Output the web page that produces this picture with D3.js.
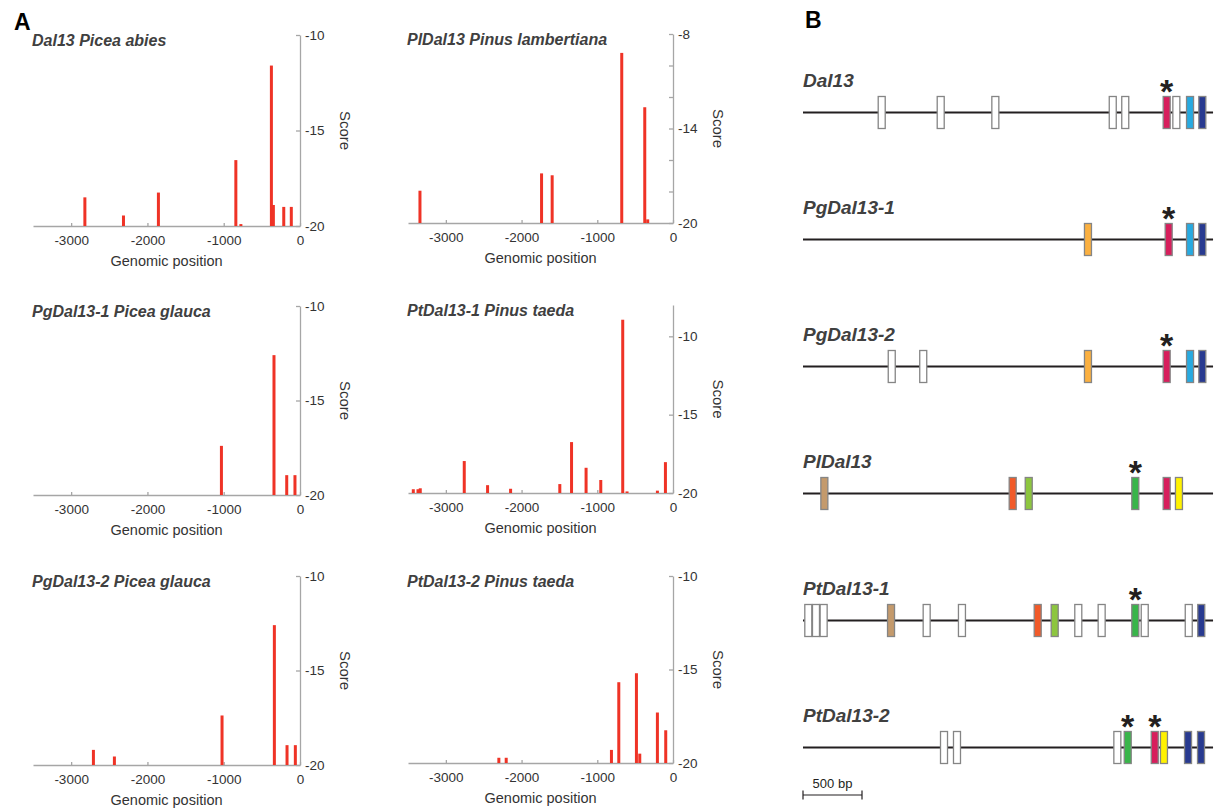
<!DOCTYPE html>
<html>
<head>
<meta charset="utf-8">
<script src="https://cdn.jsdelivr.net/npm/d3@7"></script>
<style>
  body { margin: 0; background: #fff; }
  text { font-family: "Liberation Sans", Arial, sans-serif; }
</style>
</head>
<body>
<script>
const width = 1216;
const height = 809;

// panel A data: motif positions (bp upstream) and scores
const dal13Pos = [-2820, -2314, -1856, -841, -775, -375, -349, -213, -114];
const dal13Score = [-18.5, -19.45, -18.25, -16.55, -19.9, -11.6, -18.9, -19.0, -19.0];
const plDal13Pos = [-3342, -1736, -1596, -677, -373, -334];
const plDal13Score = [-17.95, -16.85, -16.97, -9.2, -12.65, -19.77];
const pg1Pos = [-1030, -341, -174, -66];
const pg1Score = [-17.4, -12.6, -18.95, -18.95];
const pt1Pos = [-3430, -3368, -3338, -2757, -2449, -2145, -1495, -1340, -1148, -954, -664, -607, -206, -100];
const pt1Score = [-19.76, -19.76, -19.7, -17.96, -19.5, -19.73, -19.43, -16.75, -18.39, -19.17, -8.94, -19.9, -19.85, -18.03];
const pg2Pos = [-2708, -2433, -1022, -336, -170, -61];
const pg2Score = [-19.2, -19.55, -17.38, -12.6, -18.95, -18.95];
const pt2Pos = [-2300, -2203, -813, -716, -483, -439, -206, -96];
const pt2Score = [-19.72, -19.72, -19.3, -15.68, -15.2, -19.5, -17.3, -18.25];

const xTicks = [-3000, -2000, -1000, 0];

// panel B data: promoter maps
const trackNames = ["Dal13", "PgDal13-1", "PgDal13-2", "PlDal13", "PtDal13-1", "PtDal13-2"];
const trackBoxes = [
  [[-2833, "w"], [-2333, "w"], [-1870, "w"], [-875, "w"], [-769, "w"], [-418, "pink", 1], [-336, "w"], [-220, "cyan"], [-116, "navy"]],
  [[-1085, "orange"], [-401, "pink", 1], [-220, "cyan"], [-116, "navy"]],
  [[-2748, "w"], [-2481, "w"], [-1085, "orange"], [-418, "pink", 1], [-220, "cyan"], [-116, "navy"]],
  [[-3319, "tan"], [-1723, "red"], [-1587, "lime"], [-684, "green", 1], [-418, "pink"], [-314, "yellow"]],
  [[-3455, "w"], [-3390, "w"], [-3325, "w"], [-2754, "tan"], [-2452, "w"], [-2153, "w"], [-1511, "red"], [-1367, "lime"],
   [-1167, "w"], [-969, "w"], [-684, "green", 1], [-604, "w"], [-231, "w"], [-125, "navy"]],
  [[-2305, "w"], [-2195, "w"], [-836, "w"], [-748, "green", 1], [-519, "pink", 1], [-441, "yellow"], [-237, "navy"], [-127, "navy"]],
];
const boxColors = {
  w: "#ffffff", pink: "#d71e5c", cyan: "#27aae1", navy: "#283a90", orange: "#fbb040",
  tan: "#c49a6c", red: "#f15a29", lime: "#8dc63f", green: "#39b54a", yellow: "#fff200",
};

const svg = d3.select("body").append("svg").attr("width", width).attr("height", height);

svg.append("text").attr("x", 14).attr("y", 30).attr("font-size", 23).attr("font-weight", "bold").text("A");
svg.append("text").attr("x", 805).attr("y", 28).attr("font-size", 23).attr("font-weight", "bold").text("B");

const charts = [
  { title: "Dal13 Picea abies", pos: dal13Pos, score: dal13Score, x0: 33, x1: 300, yTop: 35, yBot: 226, top: -10, ticks: [-20, -15, -10], labels: [-20, -15, -10] },
  { title: "PlDal13 Pinus lambertiana", pos: plDal13Pos, score: plDal13Score, x0: 408, x1: 673, yTop: 34, yBot: 223, top: -8, ticks: [-20, -18, -16, -14, -12, -10, -8], labels: [-20, -14, -8] },
  { title: "PgDal13-1 Picea glauca", pos: pg1Pos, score: pg1Score, x0: 33, x1: 300, yTop: 306, yBot: 495, top: -10, ticks: [-20, -15, -10], labels: [-20, -15, -10] },
  { title: "PtDal13-1 Pinus taeda", pos: pt1Pos, score: pt1Score, x0: 408, x1: 673, yTop: 305, yBot: 493, top: -8, ticks: [-20, -15, -10], labels: [-20, -15, -10] },
  { title: "PgDal13-2 Picea glauca", pos: pg2Pos, score: pg2Score, x0: 33, x1: 300, yTop: 576, yBot: 765, top: -10, ticks: [-20, -15, -10], labels: [-20, -15, -10] },
  { title: "PtDal13-2 Pinus taeda", pos: pt2Pos, score: pt2Score, x0: 408, x1: 673, yTop: 576, yBot: 763, top: -10, ticks: [-20, -15, -10], labels: [-20, -15, -10] },
];

charts.forEach(drawChart);

function drawChart(c) {
  const g = svg.append("g");
  const x = d3.scaleLinear().domain([-3500, 0]).range([c.x0, c.x1]);
  const y = d3.scaleLinear().domain([-20, c.top]).range([c.yBot, c.yTop]);

  g.append("text")
    .attr("x", c.x0 - 1)
    .attr("y", c.yTop + 11)
    .attr("font-size", 16)
    .attr("font-weight", "bold")
    .attr("font-style", "italic")
    .attr("fill", "#404040")
    .text(c.title);

  const xAxis = g.append("g")
    .attr("transform", `translate(0,${c.yBot})`)
    .call(d3.axisBottom(x).tickValues(xTicks).tickSizeInner(-3).tickSizeOuter(0).tickPadding(9).tickFormat((d) => String(d)));

  const yAxis = g.append("g")
    .attr("transform", `translate(${c.x1},0)`)
    .call(d3.axisRight(y).tickValues(c.ticks).tickSizeInner(-4).tickSizeOuter(0).tickPadding(5)
      .tickFormat((d) => (c.labels.includes(d) ? String(d) : "")));

  [xAxis, yAxis].forEach((a) => {
    a.selectAll("path, line").attr("stroke", "#a6a6a6").attr("stroke-width", 1.3);
    a.selectAll("text").attr("font-size", 13.5).attr("fill", "#333").attr("font-family", "Liberation Sans, Arial, sans-serif");
  });

  g.append("text")
    .attr("x", (c.x0 + c.x1) / 2)
    .attr("y", c.yBot + 40)
    .attr("text-anchor", "middle")
    .attr("font-size", 14.5)
    .attr("fill", "#333")
    .text("Genomic position");

  g.append("text")
    .attr("transform", `translate(${c.x1 + 40},${(c.yTop + c.yBot) / 2}) rotate(90)`)
    .attr("text-anchor", "middle")
    .attr("font-size", 15)
    .attr("fill", "#333")
    .text("Score");

  const bars = c.pos.map((p, i) => ({ p: p, s: c.score[i] }));
  g.selectAll("rect.bar")
    .data(bars)
    .enter()
    .append("rect")
    .attr("class", "bar")
    .attr("x", (d) => x(d.p) - 1.5)
    .attr("width", 3)
    .attr("y", (d) => y(d.s))
    .attr("height", (d) => y(-20) - y(d.s))
    .attr("fill", "#ef3326");
}

// panel B
const xb = d3.scaleLinear().domain([-3500, 0]).range([803, 1216]);
const yb = d3.scalePoint().domain(trackNames).range([112.5, 747.5]);
const boxW = 7;
const boxH = 32;

trackNames.forEach((name, i) => {
  const ty = yb(name);
  const g = svg.append("g");
  g.append("text")
    .attr("x", 803)
    .attr("y", ty - 26)
    .attr("font-size", 19)
    .attr("font-weight", "bold")
    .attr("font-style", "italic")
    .attr("fill", "#404040")
    .text(name);

  g.append("line")
    .attr("x1", xb(-3500))
    .attr("x2", xb(-25))
    .attr("y1", ty)
    .attr("y2", ty)
    .attr("stroke", "#231f20")
    .attr("stroke-width", 2.2);

  g.selectAll("rect")
    .data(trackBoxes[i])
    .enter()
    .append("rect")
    .attr("x", (d) => xb(d[0]) - boxW / 2)
    .attr("y", ty - boxH / 2)
    .attr("width", boxW)
    .attr("height", boxH)
    .attr("fill", (d) => boxColors[d[1]])
    .attr("stroke", "#858585")
    .attr("stroke-width", 1.3);

  g.selectAll("text.star")
    .data(trackBoxes[i].filter((d) => d[2]))
    .enter()
    .append("text")
    .attr("class", "star")
    .attr("x", (d) => xb(d[0]))
    .attr("y", ty - boxH / 2 + 6)
    .attr("text-anchor", "middle")
    .attr("font-size", 34)
    .attr("font-weight", "bold")
    .attr("fill", "#231f20")
    .text("*");
});

// scale bar
const sb = svg.append("g");
const sbY = 795;
sb.append("line").attr("x1", xb(-3500)).attr("x2", xb(-3000)).attr("y1", sbY).attr("y2", sbY).attr("stroke", "#231f20").attr("stroke-width", 1.2);
[-3500, -3000].forEach((d) => {
  sb.append("line").attr("x1", xb(d)).attr("x2", xb(d)).attr("y1", sbY - 4.5).attr("y2", sbY + 4.5).attr("stroke", "#231f20").attr("stroke-width", 1.2);
});
sb.append("text")
  .attr("x", (xb(-3500) + xb(-3000)) / 2)
  .attr("y", 788)
  .attr("text-anchor", "middle")
  .attr("font-size", 13)
  .attr("fill", "#231f20")
  .text("500 bp");
</script>
</body>
</html>
